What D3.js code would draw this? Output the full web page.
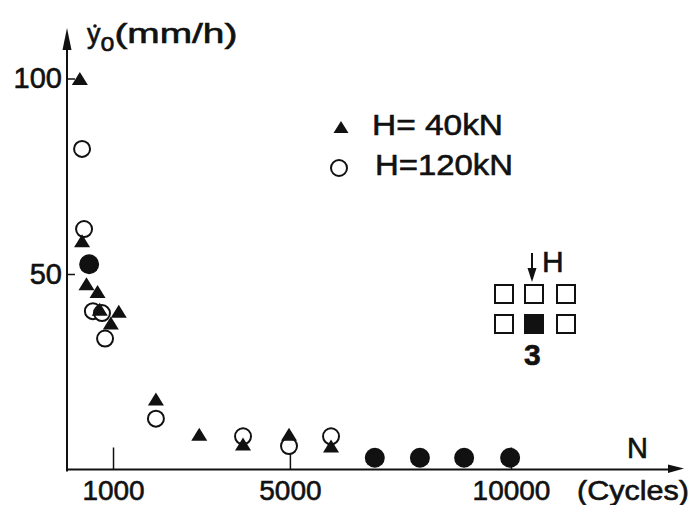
<!DOCTYPE html>
<html><head><meta charset="utf-8">
<script src="https://cdn.jsdelivr.net/npm/d3@7"></script>
<style>
body{margin:0;background:#fff;}
svg{display:block;}
text{font-family:"Liberation Sans",Arial,sans-serif;fill:#111;stroke:#111;stroke-width:0.6px;}
</style></head>
<body><svg id="c" width="694" height="505"></svg>
<script>
// ---- data ----
const xTicks = [1000, 5000, 10000];
const yTicks = [50, 100];
const tri40N = [250, 300, 400, 650, 700, 950, 1130, 460, 1970, 2950, 3940, 4980, 5930, 6920, 7940, 8940, 9980];
const tri40V = [100, 58.5, 47.5, 45.5, 41, 37.5, 40.5, 52.5, 18, 9, 6.5, 9, 6, 3, 3, 3, 3];
const cir120N = [300, 345, 460, 545, 750, 820, 1970, 3940, 4980, 5930, 6920, 7940, 8940, 9980];
const cir120V = [82, 61.5, 52.5, 40.5, 40, 33.5, 13, 8.5, 6, 8.5, 3, 3, 3, 3];
const legendLabels = ["H= 40kN", "H=120kN"];

const svg = d3.select("#c");
const x = d3.scaleLinear().domain([0, 10000]).range([68.8, 511]);
const y = d3.scaleLinear().domain([0, 100]).range([469.5, 78.5]);
const axisX = 67, axisY = 469.5;
const ink = "#111";

// axis lines with arrows
svg.append("line").attr("x1", axisX).attr("x2", axisX).attr("y1", axisY + 2).attr("y2", 40)
  .attr("stroke", ink).attr("stroke-width", 2);
svg.append("path").attr("d", `M${axisX},28 L${axisX-4.5},50 L${axisX+4.5},50 Z`).attr("fill", ink);
svg.append("line").attr("x1", axisX - 1).attr("x2", 675).attr("y1", axisY).attr("y2", axisY)
  .attr("stroke", ink).attr("stroke-width", 2);
svg.append("path").attr("d", `M684,${axisY-1} L668,${axisY-5} L668,${axisY+3.5} Z`).attr("fill", ink);

// x axis
const gx = svg.append("g").attr("transform", `translate(0,${axisY})`)
  .call(d3.axisBottom(x).tickValues(xTicks).tickSize(-22).tickPadding(11).tickFormat(d3.format("d")));
gx.select(".domain").remove();
gx.selectAll(".tick line").attr("stroke", ink).attr("stroke-width", 1.5);
gx.selectAll(".tick text").attr("font-size", 28).attr("font-family", "Liberation Sans, Arial").attr("fill", ink);

// y axis
const gy = svg.append("g").attr("transform", `translate(${axisX},0)`)
  .call(d3.axisLeft(y).tickValues(yTicks).tickSize(-8).tickPadding(5));
gy.select(".domain").remove();
gy.selectAll(".tick line").attr("stroke", ink).attr("stroke-width", 1.5);
gy.selectAll(".tick text").attr("font-size", 29).attr("font-family", "Liberation Sans, Arial").attr("fill", ink);

// axis titles
const yl = svg.append("text").attr("x", 87).attr("y", 43).attr("font-size", 27);
yl.append("tspan").text("y");
yl.append("tspan").attr("dy", 8).attr("font-size", 25).text("o");
yl.append("tspan").attr("dy", -8).attr("textLength", 123).attr("lengthAdjust", "spacingAndGlyphs").text("(mm/h)");
svg.append("circle").attr("cx", 95).attr("cy", 26).attr("r", 1.8).attr("fill", ink);

svg.append("text").attr("x", 627).attr("y", 458).attr("font-size", 29).text("N");
svg.append("text").attr("x", 577).attr("y", 500).attr("font-size", 27)
  .attr("textLength", 112).attr("lengthAdjust", "spacingAndGlyphs").text("(Cycles)");

// markers
function triPath(cx, cy, w = 16, h = 13) {
  return `M${cx},${cy - h/2} L${cx + w/2},${cy + h/2} L${cx - w/2},${cy + h/2} Z`;
}
const tri = tri40N.map((n, i) => ({n, v: tri40V[i]}));
const cir = cir120N.map((n, i) => ({n, v: cir120V[i]}));
const coincident = d => tri.some(t => Math.abs(t.n - d.n) < 30 && Math.abs(t.v - d.v) < 1);

svg.append("g").selectAll("circle").data(cir).join("circle")
  .attr("cx", d => x(d.n)).attr("cy", d => y(d.v))
  .attr("r", d => coincident(d) ? 9 : 8)
  .attr("fill", d => coincident(d) ? ink : "#fff")
  .attr("stroke", ink).attr("stroke-width", 2);
svg.append("g").selectAll("path").data(tri).join("path")
  .attr("d", d => triPath(x(d.n), y(d.v)))
  .attr("fill", ink);

// legend
svg.append("path").attr("d", triPath(341, 127, 15, 12)).attr("fill", ink);
svg.append("circle").attr("cx", 339).attr("cy", 168).attr("r", 8).attr("fill", "#fff")
  .attr("stroke", ink).attr("stroke-width", 2);
svg.append("text").attr("x", 372).attr("y", 135).attr("font-size", 30)
  .attr("textLength", 131).attr("lengthAdjust", "spacingAndGlyphs").text(legendLabels[0]);
svg.append("text").attr("x", 375).attr("y", 175).attr("font-size", 30)
  .attr("textLength", 138).attr("lengthAdjust", "spacingAndGlyphs").text(legendLabels[1]);

// pile-group diagram
const sq = [[495,285,false],[525,285,false],[557,285,false],[495,315,false],[525,315,true],[557,315,false]];
svg.append("g").selectAll("rect").data(sq).join("rect")
  .attr("x", d => d[0]).attr("y", d => d[1]).attr("width", 18).attr("height", 18)
  .attr("fill", d => d[2] ? ink : "#fff").attr("stroke", ink).attr("stroke-width", 2);
svg.append("line").attr("x1", 532).attr("x2", 532).attr("y1", 253).attr("y2", 272)
  .attr("stroke", ink).attr("stroke-width", 2);
svg.append("path").attr("d", "M532,282 L527.5,268 L536.5,268 Z").attr("fill", ink);
svg.append("text").attr("x", 542).attr("y", 272).attr("font-size", 30).text("H");
svg.append("text").attr("x", 524).attr("y", 365).attr("font-size", 30).attr("font-weight", "bold").text("3");
</script></body></html>
